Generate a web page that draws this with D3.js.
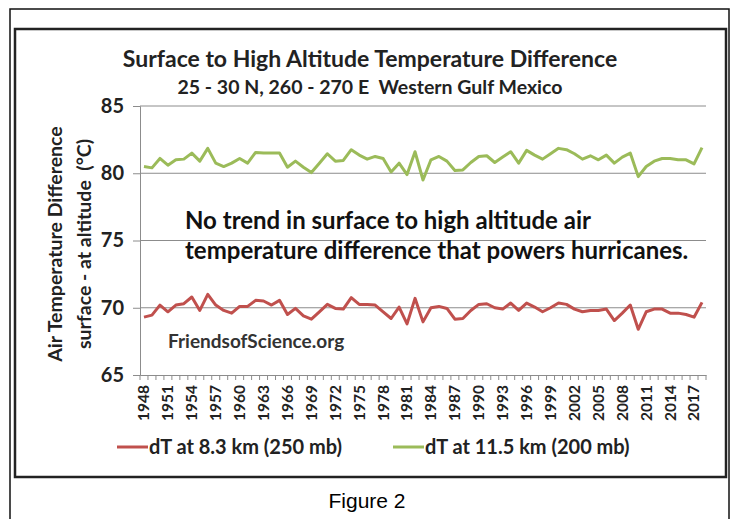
<!DOCTYPE html>
<html>
<head>
<meta charset="utf-8">
<script src="https://cdn.jsdelivr.net/npm/d3@7"></script>
<style>
  body { margin: 0; background: #fff; }
  svg text { font-family: Lato, "Open Sans", sans-serif; font-weight: bold; }
</style>
</head>
<body>
<svg id="chart" width="735" height="519"></svg>
<script>
// years shown on the axis, 1948 - 2018
var years = d3.range(1948, 2019);

// dT at 8.3 km (250 mb)
var dt250 = [69.3, 69.45, 70.2, 69.7, 70.2, 70.3, 70.8, 69.8, 71.0, 70.2,
             69.8, 69.6, 70.1, 70.1, 70.55, 70.5, 70.2, 70.55, 69.5, 69.95,
             69.4, 69.15, 69.7, 70.25, 69.95, 69.9, 70.75, 70.25, 70.25, 70.2,
             69.7, 69.2, 70.05, 68.8, 70.7, 68.95, 70.0, 70.1, 69.95, 69.15,
             69.2, 69.8, 70.25, 70.3, 70.0, 69.9, 70.35, 69.8, 70.35, 70.05,
             69.7, 70.0, 70.35, 70.25, 69.9, 69.7, 69.8, 69.8, 69.9, 69.05,
             69.6, 70.2, 68.4, 69.7, 69.9, 69.9, 69.6, 69.6, 69.5, 69.3, 70.4];

// dT at 11.5 km (200 mb)
var dt200 = [80.5, 80.4, 81.1, 80.6, 81.0, 81.05, 81.5, 80.9, 81.85, 80.75,
             80.5, 80.75, 81.1, 80.75, 81.55, 81.5, 81.5, 81.5, 80.45, 80.9,
             80.45, 80.05, 80.75, 81.45, 80.9, 80.95, 81.75, 81.35, 81.05, 81.25,
             81.1, 80.1, 80.75, 79.9, 81.6, 79.5, 81.0, 81.25, 80.9, 80.2,
             80.25, 80.8, 81.25, 81.3, 80.8, 81.2, 81.6, 80.75, 81.7, 81.35,
             81.05, 81.45, 81.85, 81.75, 81.45, 81.05, 81.3, 81.0, 81.35, 80.75,
             81.2, 81.5, 79.75, 80.5, 80.9, 81.1, 81.1, 81.0, 81.0, 80.7, 81.9];

var yTicks = [65, 70, 75, 80, 85];
var seriesNames = ["dT at 8.3 km (250 mb)", "dT at 11.5 km (200 mb)"];
var seriesColors = ["#c0504d", "#9bbb59"];

var svg = d3.select("#chart");

// outer figure frame and inner chart frame
svg.append("rect")
    .attr("x", 10).attr("y", 9).attr("width", 719).attr("height", 515)
    .style("fill", "none").style("stroke", "#111").style("stroke-width", 1.5);
svg.append("rect")
    .attr("x", 15).attr("y", 29).attr("width", 711).attr("height", 448)
    .style("fill", "#fff").style("stroke", "#222").style("stroke-width", 2.5);

svg.append("text")
    .attr("x", 367).attr("y", 508)
    .attr("text-anchor", "middle")
    .style("font-family", "'Liberation Sans', Arial, sans-serif")
    .style("font-weight", "normal")
    .style("font-size", "21px")
    .text("Figure 2");

// titles
svg.append("text")
    .attr("x", 370).attr("y", 67)
    .attr("text-anchor", "middle")
    .style("font-size", "23px")
    .style("fill", "#222")
    .text("Surface to High Altitude Temperature Difference");
svg.append("text")
    .attr("x", 370).attr("y", 94)
    .attr("text-anchor", "middle")
    .style("font-size", "19.5px")
    .style("fill", "#222")
    .text("25 - 30 N, 260 - 270 E\u00a0\u00a0Western Gulf Mexico");

var plotLeft = 140, plotRight = 706, plotTop = 106, plotBottom = 375;

var x = d3.scaleBand().domain(years).range([plotLeft, plotRight]);
var y = d3.scaleLinear().domain([65, 85]).range([plotBottom, plotTop]);

// gridlines
svg.append("g")
    .selectAll("line")
    .data(yTicks.slice(1))
    .enter().append("line")
    .attr("x1", plotLeft).attr("x2", plotRight)
    .attr("y1", function(d) { return y(d); })
    .attr("y2", function(d) { return y(d); })
    .style("stroke", "#8c8c8c").style("stroke-width", 1);

// y axis
var yAxis = svg.append("g")
    .attr("transform", "translate(" + plotLeft + ",0)")
    .call(d3.axisLeft(y).tickValues(yTicks).tickSize(7).tickPadding(9));
yAxis.select(".domain").style("stroke", "#8c8c8c");
yAxis.selectAll(".tick line").style("stroke", "#8c8c8c");
yAxis.selectAll(".tick text")
    .style("font-size", "20px").style("fill", "#222")
    .style("font-family", "Lato, sans-serif");

// x axis
var xAxis = svg.append("g")
    .attr("transform", "translate(0," + plotBottom + ")")
    .call(d3.axisBottom(x).tickSize(0).tickFormat(function(d) {
        return (d - 1948) % 3 === 0 ? d : "";
    }));
xAxis.select(".domain").style("stroke", "#8c8c8c");
xAxis.selectAll(".tick text")
    .attr("transform", "rotate(-90)")
    .attr("x", -10).attr("y", 0).attr("dy", "0.35em")
    .attr("text-anchor", "end")
    .style("font-size", "15.5px").style("fill", "#222")
    .style("font-family", "Lato, sans-serif");

// category boundary ticks
svg.append("g")
    .selectAll("line")
    .data(years.concat([2019]))
    .enter().append("line")
    .attr("x1", function(d, i) { return plotLeft + i * x.bandwidth(); })
    .attr("x2", function(d, i) { return plotLeft + i * x.bandwidth(); })
    .attr("y1", plotBottom).attr("y2", plotBottom + 5)
    .style("stroke", "#8c8c8c").style("stroke-width", 1);

// axis title
var yTitle = svg.append("text")
    .attr("transform", "translate(62,244) rotate(-90)")
    .attr("text-anchor", "middle")
    .style("font-size", "19.5px").style("fill", "#222");
yTitle.append("tspan").attr("x", 0).attr("dy", 0).text("Air Temperature Difference");
yTitle.append("tspan").attr("x", 0).attr("dy", 29).text("surface - at altitude\u00a0\u00a0(\u00b0C)");

// series lines
var line = d3.line()
    .x(function(d, i) { return x(years[i]) + x.bandwidth() / 2; })
    .y(function(d) { return y(d); });

[dt250, dt200].forEach(function(s, k) {
    svg.append("path")
        .datum(s)
        .attr("d", line)
        .style("fill", "none")
        .style("stroke", seriesColors[k])
        .style("stroke-width", 3)
        .style("stroke-linejoin", "round");
});

// annotations
svg.append("text")
    .attr("x", 185).attr("y", 229)
    .style("font-size", "24px").style("fill", "#111")
    .text("No trend in surface to high altitude air");
svg.append("text")
    .attr("x", 185).attr("y", 259)
    .style("font-size", "24px").style("fill", "#111")
    .text("temperature difference that powers hurricanes.");
svg.append("text")
    .attr("x", 168).attr("y", 348)
    .style("font-size", "19px").style("fill", "#333")
    .text("FriendsofScience.org");

// legend
var legendX = [117, 393];
seriesNames.forEach(function(name, k) {
    var g = svg.append("g").attr("transform", "translate(" + legendX[k] + ",447)");
    g.append("line")
        .attr("x1", 0).attr("x2", 31).attr("y1", 0).attr("y2", 0)
        .style("stroke", seriesColors[k]).style("stroke-width", 3);
    g.append("text")
        .attr("x", 32).attr("y", 0).attr("dy", "0.35em")
        .style("font-size", "20px").style("fill", "#222")
        .text(name);
});
</script>
</body>
</html>
